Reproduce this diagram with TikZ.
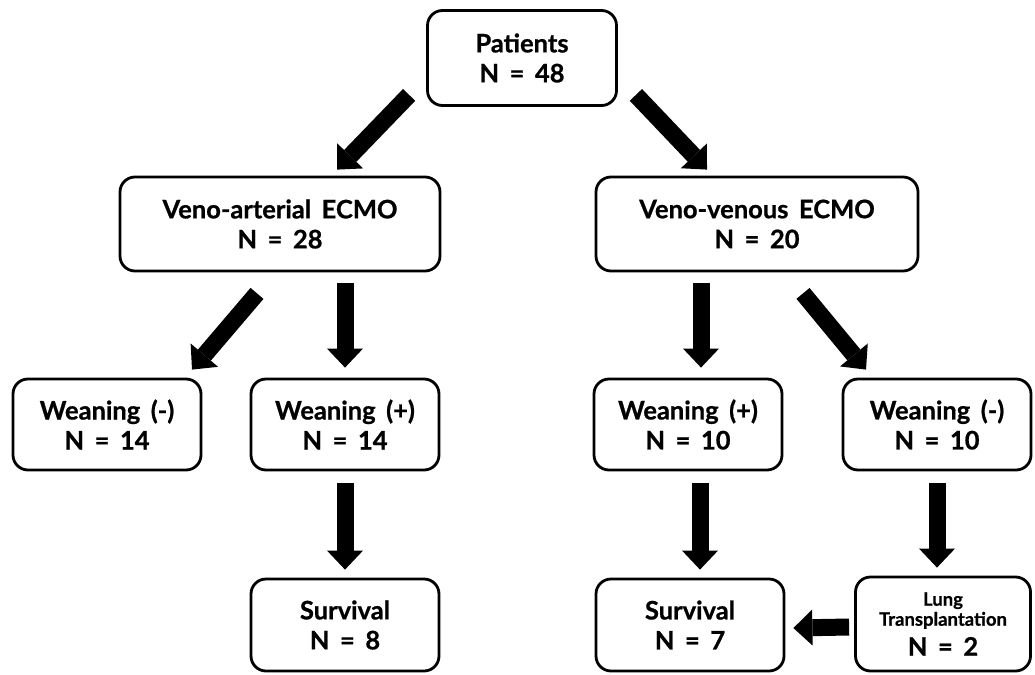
\documentclass[tikz,border=0pt]{standalone}
\usepackage{fontspec}
\setmainfont{Lato}[WordSpace=1.7, BoldFeatures={FakeBold=0.8}]
\usetikzlibrary{arrows.meta,calc}
\begin{document}
\begin{tikzpicture}[x=1pt, y=1pt,
        box/.style={draw, line width=2.8pt, rounded corners=15pt, align=center,
            inner sep=0pt, font=\bfseries\fontsize{25.5}{30}\selectfont},
        widebox/.style={box, minimum width=320pt, minimum height=94pt},
        smallbox/.style={box, minimum width=188pt, minimum height=91pt},
        bigarrow/.style={line width=17pt, -{Triangle[width=36pt, length=19pt, line width=0pt]}}]

        \useasboundingbox (0,0) rectangle (1035,-674);

        % -----------------------
        % 1. Patients Node
        % -----------------------
        \node[box, minimum width=189pt, minimum height=95pt] (pat) at (522,-58) {Patients\\N = 48};

        % -----------------------
        % 2. ECMO Nodes
        % -----------------------
        \node[widebox] (va) at (280,-224) {Veno-arterial ECMO\\N = 28};
        \node[widebox, minimum width=322pt] (vv) at (757,-224) {Veno-venous ECMO\\N = 20};

        % -----------------------
        % 3. Weaning Nodes
        % -----------------------
        \node[smallbox] (wm1) at (107,-424.5) {Weaning (-)\\N = 14};
        \node[smallbox] (wp1) at (345,-424.5) {Weaning (+)\\N = 14};
        \node[smallbox] (wp2) at (688,-424.5) {Weaning (+)\\N = 10};
        \node[smallbox] (wm2) at (937,-424.5) {Weaning (-)\\N = 10};

        % -----------------------
        % 4. Outcome Nodes
        % -----------------------
        \node[smallbox, minimum height=92pt] (surv1) at (345,-625) {Survival\\N = 8};
        \node[smallbox, minimum height=92pt] (surv2) at (690,-625) {Survival\\N = 7};
        \node[smallbox, minimum width=175pt, minimum height=94pt] (lung) at (943,-624)
            {\fontsize{18.5}{19}\selectfont Lung\\[-10pt]\fontsize{18.5}{19}\selectfont Transplantation\\[0pt]N = 2};

        % -----------------------
        % Arrows
        % -----------------------
        \draw[bigarrow] ([shift={(-17,12)}]pat.south west) -- ([shift={(57,6)}]va.north);
        \draw[bigarrow] ([shift={(18,12)}]pat.south east) -- ([shift={(-50,6)}]vv.north);

        % VA branch
        \draw[bigarrow] ([shift={(-23,-21)}]va.south) -- ([shift={(85,8)}]wm1.north);
        \draw[bigarrow] ($(va.south -| wp1.north)+(0,-11)$) -- ([yshift=10pt]wp1.north);
        \draw[bigarrow] ([yshift=-12pt]wp1.south) -- ([yshift=8pt]surv1.north);

        % VV branch
        \draw[bigarrow] ($(vv.south -| wp2.north)+(13,-11)$) -- ([shift={(13,10)}]wp2.north);
        \draw[bigarrow] ([shift={(46,-21)}]vv.south) -- ([shift={(-71,8)}]wm2.north);
        \draw[bigarrow] ([shift={(12,-12)}]wp2.south) -- ([shift={(10,8)}]surv2.north);
        \draw[bigarrow] ([yshift=-12pt]wm2.south) -- ($(lung.north -| wm2.south)+(0,8)$);
        \draw[bigarrow] ([shift={(-5,-3)}]lung.west) -- ([shift={(8,-3)}]surv2.east);

    \end{tikzpicture}
\end{document}
